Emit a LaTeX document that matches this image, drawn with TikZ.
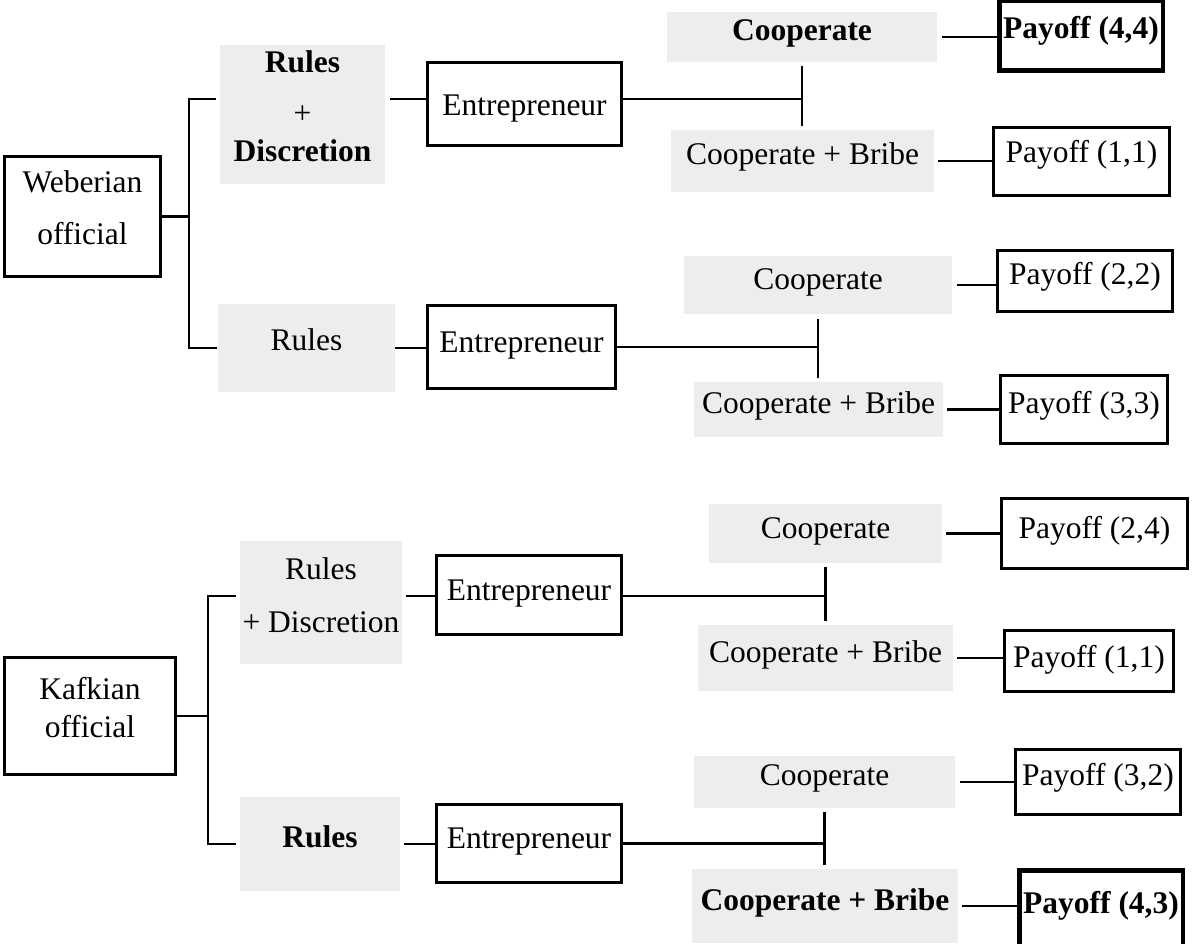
\documentclass[tikz,border=0pt]{standalone}
\usepackage{fontspec}
\setmainfont{Liberation Serif}
\definecolor{boxgray}{RGB}{237,237,237}
\begin{document}
\begin{tikzpicture}[x=1pt,y=-1pt,
  box/.style={draw, line width=3.3pt, inner sep=0pt},
  thickbox/.style={draw, line width=4.5pt, inner sep=0pt},
  graybox/.style={fill=boxgray, inner sep=0pt, outer sep=0pt},
  txt/.style={anchor=base, inner sep=0pt, font=\fontsize{31.5}{37}\selectfont},
  btxt/.style={txt, font=\fontsize{31.5}{37}\selectfont\bfseries},
  conn/.style={line width=2.3pt}]
\useasboundingbox (0,0) rectangle (1192,944);

% ---------- Weberian ----------
\node[box, minimum width=155.7pt, minimum height=119.7pt] (W) at (82.5,216.5) {};
\node[graybox, minimum width=165pt, minimum height=139pt] (RD1) at (302.5,114.5) {};
\node[graybox, minimum width=177pt, minimum height=88pt] (R1) at (306.5,348) {};
\node[box, minimum width=193.7pt, minimum height=82.7pt] (E1) at (524.5,104) {};
\node[box, minimum width=187.7pt, minimum height=82.7pt] (E2) at (521.5,347) {};
\node[graybox, minimum width=270pt, minimum height=50pt] (C1) at (802,37) {};
\node[graybox, minimum width=263pt, minimum height=62pt] (CB1) at (802.5,161) {};
\node[graybox, minimum width=268pt, minimum height=58pt] (C2) at (818,285) {};
\node[graybox, minimum width=249pt, minimum height=55pt] (CB2) at (818.5,409.5) {};
\node[thickbox, minimum width=163.5pt, minimum height=69.5pt] (P1) at (1081,36) {};
\node[box, minimum width=175.7pt, minimum height=67.7pt] (P2) at (1081.5,161.5) {};
\node[box, minimum width=174.7pt, minimum height=60.7pt] (P3) at (1085,281) {};
\node[box, minimum width=166.7pt, minimum height=67.7pt] (P4) at (1084,409.5) {};

\node[txt] (W-a) at (82.5,193) {Weberian};
\node[txt] (W-b) at (82.5,245) {official};
\node[btxt] (RD1-a) at (302.5,73) {Rules};
\node[txt] (RD1-b) at (302.5,124) {+};
\node[btxt] (RD1-c) at (302.5,162) {Discretion};
\node[txt] (R1-a) at (306.5,350) {Rules};
\node[txt] (E1-a) at (524.5,116) {Entrepreneur};
\node[txt] (E2-a) at (521.5,352) {Entrepreneur};
\node[btxt] (C1-a) at (802,41) {Cooperate};
\node[txt] (CB1-a) at (802.5,165) {Cooperate + Bribe};
\node[txt] (C2-a) at (818,290) {Cooperate};
\node[txt] (CB2-a) at (818.5,413) {Cooperate + Bribe};
\node[btxt] (P1-a) at (1081,39) {Payoff (4,4)};
\node[txt] (P2-a) at (1081.5,163) {Payoff (1,1)};
\node[txt] (P3-a) at (1085,285) {Payoff (2,2)};
\node[txt] (P4-a) at (1084,413) {Payoff (3,3)};

\coordinate (b1t) at (189,99);
\coordinate (b1b) at (189,348);
\draw[conn] (W.east) -- (W.east -| b1t);
\draw[conn, shorten <=4pt, shorten >=1pt, line join=miter] (RD1.west |- b1t) -- (b1t) -- (b1b) -- (R1.west |- b1b);
\draw[conn, shorten <=5pt] (RD1.east |- b1t) -- (E1.west |- b1t);
\draw[conn] (R1.east) -- (R1.east -| E2.west);
\draw[conn] (E1.east |- b1t) -- (C1.south |- b1t);
\draw[conn, shorten <=4pt, shorten >=4pt] (C1.south) -- (C1.south |- CB1.north);
\draw[conn] (E2.east) -- (E2.east -| C2.south);
\draw[conn, shorten <=5pt, shorten >=4pt] (C2.south) -- (C2.south |- CB2.north);
\draw[conn, shorten <=5pt] (C1.east) -- (C1.east -| P1.west);
\draw[conn, shorten <=4pt] (CB1.east) -- (CB1.east -| P2.west);
\draw[conn, shorten <=5pt] (C2.east) -- (C2.east -| P3.west);
\draw[conn, shorten <=4pt] (CB2.east) -- (CB2.east -| P4.west);

% ---------- Kafkian ----------
\node[box, minimum width=170.7pt, minimum height=116.7pt] (K) at (90,716) {};
\node[graybox, minimum width=162pt, minimum height=123pt] (RD2) at (321,602.5) {};
\node[graybox, minimum width=160pt, minimum height=94pt] (R2) at (320,844) {};
\node[box, minimum width=184.7pt, minimum height=78.7pt] (E3) at (529,595) {};
\node[box, minimum width=184.7pt, minimum height=77.7pt] (E4) at (529,843.5) {};
\node[graybox, minimum width=233pt, minimum height=59pt] (C3) at (825.5,533.5) {};
\node[graybox, minimum width=255pt, minimum height=66pt] (CB3) at (825.5,658) {};
\node[graybox, minimum width=261pt, minimum height=52pt] (C4) at (824.5,782) {};
\node[graybox, minimum width=266pt, minimum height=74pt] (CB4) at (825,906) {};
\node[box, minimum width=185.7pt, minimum height=69.7pt] (P5) at (1094.5,533.5) {};
\node[box, minimum width=168.7pt, minimum height=60.7pt] (P6) at (1089,661) {};
\node[box, minimum width=164.7pt, minimum height=64.7pt] (P7) at (1098,782) {};
\node[thickbox, minimum width=163.5pt, minimum height=75.5pt] (P8) at (1101,908) {};

\node[txt] (K-a) at (90,699) {Kafkian};
\node[txt] (K-b) at (90,737) {official};
\node[txt] (RD2-a) at (321,579) {Rules};
\node[txt] (RD2-b) at (321,632) {+ Discretion};
\node[btxt] (R2-a) at (320,847) {Rules};
\node[txt] (E3-a) at (529,600) {Entrepreneur};
\node[txt] (E4-a) at (529,848) {Entrepreneur};
\node[txt] (C3-a) at (825.5,538) {Cooperate};
\node[txt] (CB3-a) at (825.5,662) {Cooperate + Bribe};
\node[txt] (C4-a) at (824.5,785) {Cooperate};
\node[btxt] (CB4-a) at (825,910) {Cooperate + Bribe};
\node[txt] (P5-a) at (1094.5,538) {Payoff (2,4)};
\node[txt] (P6-a) at (1089,667) {Payoff (1,1)};
\node[txt] (P7-a) at (1098,785) {Payoff (3,2)};
\node[btxt] (P8-a) at (1101,913) {Payoff (4,3)};

\coordinate (b2t) at (208,596);
\coordinate (b2b) at (208,844);
\draw[conn] (K.east) -- (K.east -| b2t);
\draw[conn, shorten <=4pt, shorten >=4pt, line join=miter] (RD2.west |- b2t) -- (b2t) -- (b2b) -- (R2.west |- b2b);
\draw[conn, shorten <=4pt] (RD2.east |- b2t) -- (E3.west |- b2t);
\draw[conn, shorten <=4pt] (R2.east) -- (R2.east -| E4.west);
\draw[conn] (E3.east |- b2t) -- (C3.south |- b2t);
\draw[conn, shorten <=4pt, shorten >=4pt] (C3.south) -- (C3.south |- CB3.north);
\draw[conn] (E4.east) -- (E4.east -| C4.south);
\draw[conn, shorten <=4pt, shorten >=4pt] (C4.south) -- (C4.south |- CB4.north);
\draw[conn, shorten <=4pt] (C3.east) -- (C3.east -| P5.west);
\draw[conn, shorten <=4pt] (CB3.east) -- (CB3.east -| P6.west);
\draw[conn, shorten <=5pt] (C4.east) -- (C4.east -| P7.west);
\draw[conn, shorten <=4pt] (CB4.east) -- (CB4.east -| P8.west);
\end{tikzpicture}
\end{document}
